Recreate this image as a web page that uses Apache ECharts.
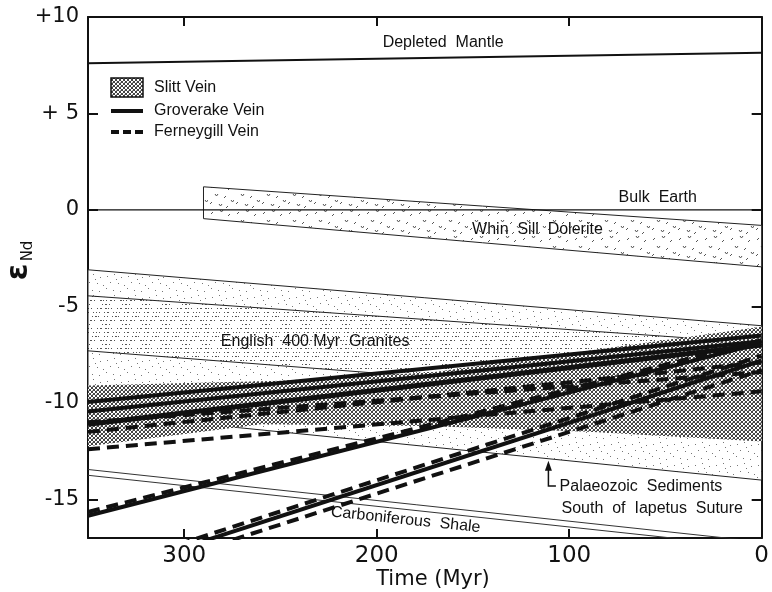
<!DOCTYPE html>
<html><head><meta charset="utf-8">
<script src="https://cdn.jsdelivr.net/npm/echarts@6/dist/echarts.min.js"></script>
<style>html,body{margin:0;padding:0;background:#fff}#c{width:772px;height:592px}</style>
</head><body><div id="c"></div>
<script>
// ---------------- data ----------------
const xTicks = [0, 100, 200, 300];
const yTicks = [-15, -10, -5, 0, 5, 10];
const depletedMantle = [[350, 7.6], [0, 8.15]];
const bulkEarth = [[350, 0], [0, 0]];
const whinSillTop = [[290, 1.2], [0, -0.8]];
const whinSillBottom = [[290, -0.45], [0, -2.95]];
const palaeozoicTop = [[350, -3.1], [0, -6.0]];
const palaeozoicBottom = [[350, -10.5], [0, -14.0]];
const graniteTop = [[350, -4.45], [0, -6.9]];
const graniteBottom = [[350, -7.3], [0, -10.0]];
const slittTop = [[350, -9.1], [250, -8.85], [170, -8.4], [0, -6.05]];
const slittBottom = [[350, -12.25], [260, -11.1], [175, -11.2], [90, -11.5], [0, -12.0]];
const shaleTop = [[350, -13.45], [0, -17.2]];
const shaleBottom = [[350, -13.75], [0, -17.5]];
const groverakeLines = [
  [[350, -9.95], [0, -6.5]],
  [[350, -10.45], [0, -6.8]],
  [[350, -11.1], [0, -7.0]],
  [[350, -15.85], [0, -6.9]],
  [[350, -19.1], [0, -7.8]]
];
const ferneygillLines = [
  [[350, -11.5], [0, -7.9]],
  [[350, -12.4], [0, -9.4]],
  [[350, -11.0], [0, -8.4]],
  [[350, -15.65], [0, -6.75]],
  [[350, -18.85], [0, -7.55]],
  [[350, -19.5], [0, -8.3]]
];
const labelTexts = ['Depleted  Mantle', 'Bulk  Earth', 'Whin  Sill  Dolerite', 'English  400 Myr  Granites',
  'Palaeozoic  Sediments', 'South  of  Iapetus  Suture', 'Carboniferous  Shale'];
const labelT = [165.5, 54, 116.5, 232, 105, 104, 185];
const labelV = [8.65, 0.62, -1.04, -6.84, -14.35, -15.5, -16.06];
const labelAlign = ['center', 'center', 'center', 'center', 'left', 'left', 'center'];
const labelRot = [0, 0, 0, 0, 0, 0, -6];
const arrowPath = [[110.8, -13.0], [110.8, -14.3], [106.9, -14.3]];
const legendNames = ['Slitt Vein', 'Groverake Vein', 'Ferneygill Vein'];

// ---------------- patterns ----------------
function tile(w, h, draw) {
  const c = document.createElement('canvas'); c.width = w; c.height = h;
  const g = c.getContext('2d'); g.fillStyle = '#fff'; g.fillRect(0, 0, w, h); draw(g); return c;
}
const lightDots = tile(21, 21, g => {
  g.fillStyle = '#777';
  const pts = [[2,3],[9,1],[16,4],[5,9],[13,10],[19,12],[1,15],[8,17],[15,18],[11,6]];
  pts.forEach(p => g.fillRect(p[0], p[1], 1, 1));
});
const denseDots = tile(20, 20, g => {
  g.fillStyle = '#555';
  for (let i = 0; i < 26; i++) {
    const x = (i * 7 + (i % 3) * 5) % 20, y = (i * 13 + (i % 4) * 3) % 20;
    g.fillRect(x, y, (i % 5 === 0) ? 2 : 1, 1);
  }
});
const whinPat = tile(26, 26, g => {
  g.strokeStyle = '#555'; g.lineWidth = 1;
  const pts = [[3,4],[12,2],[20,6],[7,12],[16,14],[23,18],[2,20],[11,22],[18,24],[6,26]];
  pts.forEach((p, i) => {
    g.beginPath();
    if (i % 2) { g.moveTo(p[0], p[1]); g.lineTo(p[0] + 1.5, p[1] + 2); g.lineTo(p[0] + 3, p[1]); }
    else { g.moveTo(p[0], p[1] + 2); g.lineTo(p[0] + 2, p[1]); }
    g.stroke();
  });
});
const hatch = tile(4, 4, g => {
  g.fillStyle = '#444';
  for (let i = 0; i < 4; i++) { g.fillRect(i, i, 1, 1); g.fillRect(3 - i, i, 1, 1); }
  g.fillStyle = '#aaa'; g.fillRect(0, 2, 1, 1);
});
const pat = c => ({ image: c, repeat: 'repeat' });

// ---------------- chart ----------------
const chart = echarts.init(document.getElementById('c'), null, { renderer: 'canvas' });
const FONT = '"Liberation Sans", Arial, sans-serif';
const AXFONT = '"DejaVu Sans", sans-serif';

const bands = [
  { upper: palaeozoicTop, lower: palaeozoicBottom, fill: pat(lightDots), stroke: '#222' },
  { upper: graniteTop, lower: graniteBottom, fill: pat(denseDots), stroke: '#222' },
  { upper: whinSillTop, lower: whinSillBottom, fill: pat(whinPat), stroke: '#222' },
  { upper: slittTop, lower: slittBottom, fill: pat(hatch), stroke: null }
];

const series = [];
series.push({
  type: 'custom', coordinateSystem: 'cartesian2d', silent: true,
  data: bands.map(() => [175, 0]),
  renderItem(params, api) {
    const b = bands[params.dataIndex];
    const pts = b.upper.map(p => api.coord(p)).concat(b.lower.slice().reverse().map(p => api.coord(p)));
    return { type: 'polygon', shape: { points: pts },
      style: { fill: b.fill, stroke: b.stroke || null, lineWidth: 1 } };
  }
});
function lineS(data, width, type, color) {
  return { type: 'line', data, showSymbol: false, symbol: 'none', silent: true, clip: true,
    lineStyle: { width, type: type || 'solid', color: color || '#111', cap: 'butt' }, animation: false };
}
series.push(lineS(depletedMantle, 2));
series.push(lineS(bulkEarth, 1.2));
series.push(lineS(shaleTop, 1, 'solid', '#333'));
series.push(lineS(shaleBottom, 1, 'solid', '#333'));
groverakeLines.forEach((d, i) => series.push(lineS(d, i === 2 ? 5 : 4)));
ferneygillLines.forEach(d => series.push(lineS(d, 4, [12, 7])));

// labels
series.push({
  type: 'custom', coordinateSystem: 'cartesian2d', silent: true,
  data: labelTexts.map((t, i) => [labelT[i], labelV[i]]),
  renderItem(params, api) {
    const i = params.dataIndex;
    const p = api.coord([labelT[i], labelV[i]]);
    return { type: 'text', x: p[0], y: p[1], rotation: labelRot[i] * Math.PI / 180,
      style: { text: labelTexts[i], fill: '#111', font: '16px ' + FONT, align: labelAlign[i], verticalAlign: 'middle' } };
  }
});
// arrow
series.push({
  type: 'custom', coordinateSystem: 'cartesian2d', silent: true,
  data: [[arrowPath[0][0], arrowPath[0][1]]],
  renderItem(params, api) {
    const pts = arrowPath.map(p => api.coord(p));
    const tip = pts[0];
    return { type: 'group', children: [
      { type: 'polyline', shape: { points: [[tip[0], tip[1] + 6], pts[1], pts[2]] }, style: { stroke: '#111', lineWidth: 1.5, fill: null } },
      { type: 'polygon', shape: { points: [[tip[0], tip[1]], [tip[0] - 3.5, tip[1] + 10], [tip[0] + 3.5, tip[1] + 10]] }, style: { fill: '#111' } }
    ] };
  }
});

const axisBase = {
  type: 'value', min: 0, max: 350, inverse: true, splitLine: { show: false },
  axisLine: { show: true, onZero: false, lineStyle: { color: '#111', width: 2 } },
  axisTick: { show: true, inside: true, length: 9, customValues: xTicks, lineStyle: { color: '#111', width: 2 } }
};
const yBase = {
  type: 'value', min: -17, max: 10, splitLine: { show: false },
  axisLine: { show: true, onZero: false, lineStyle: { color: '#111', width: 2 } },
  axisTick: { show: true, inside: true, length: 10, customValues: yTicks, lineStyle: { color: '#111', width: 2 } }
};

chart.setOption({
  animation: false,
  backgroundColor: '#fff',
  grid: { left: 88, right: 5, top: 17, bottom: 54 },
  xAxis: [
    Object.assign({}, axisBase, { position: 'bottom',
      axisLabel: { customValues: xTicks, margin: 7, color: '#111', fontSize: 23, fontFamily: AXFONT } }),
    Object.assign({}, axisBase, { position: 'top', axisLabel: { show: false } })
  ],
  yAxis: [
    Object.assign({}, yBase, { position: 'left',
      axisLabel: { customValues: yTicks, margin: 9, color: '#111', fontSize: 21, fontFamily: AXFONT,
        formatter: v => v === 10 ? '+10' : v === 5 ? '+ 5' : String(v) } }),
    Object.assign({}, yBase, { position: 'right', axisLabel: { show: false } })
  ],
  series,
  graphic: [
    { type: 'text', x: 433, y: 580, style: { text: 'Time (Myr)', font: '21px ' + AXFONT, fill: '#111', align: 'center', verticalAlign: 'middle' } },
    { type: 'text', x: 19, y: 272, rotation: Math.PI / 2, style: { text: 'ε', font: 'bold 30px ' + AXFONT, fill: '#111', align: 'center', verticalAlign: 'middle' } },
    { type: 'text', x: 28, y: 251, rotation: Math.PI / 2, style: { text: 'Nd', font: '15px ' + AXFONT, fill: '#111', align: 'center', verticalAlign: 'middle' } },
    { type: 'rect', shape: { x: 111, y: 78, width: 32, height: 19 }, style: { fill: pat(hatch), stroke: '#111', lineWidth: 1.5 } },
    { type: 'text', x: 154, y: 88, style: { text: legendNames[0], font: '16px ' + FONT, fill: '#111', verticalAlign: 'middle' } },
    { type: 'line', shape: { x1: 111, y1: 111, x2: 143, y2: 111 }, style: { stroke: '#111', lineWidth: 4 } },
    { type: 'text', x: 154, y: 111, style: { text: legendNames[1], font: '16px ' + FONT, fill: '#111', verticalAlign: 'middle' } },
    { type: 'line', shape: { x1: 111, y1: 132, x2: 143, y2: 132 }, style: { stroke: '#111', lineWidth: 4, lineDash: [8, 4] } },
    { type: 'text', x: 154, y: 132, style: { text: legendNames[2], font: '16px ' + FONT, fill: '#111', verticalAlign: 'middle' } }
  ]
});
</script></body></html>
